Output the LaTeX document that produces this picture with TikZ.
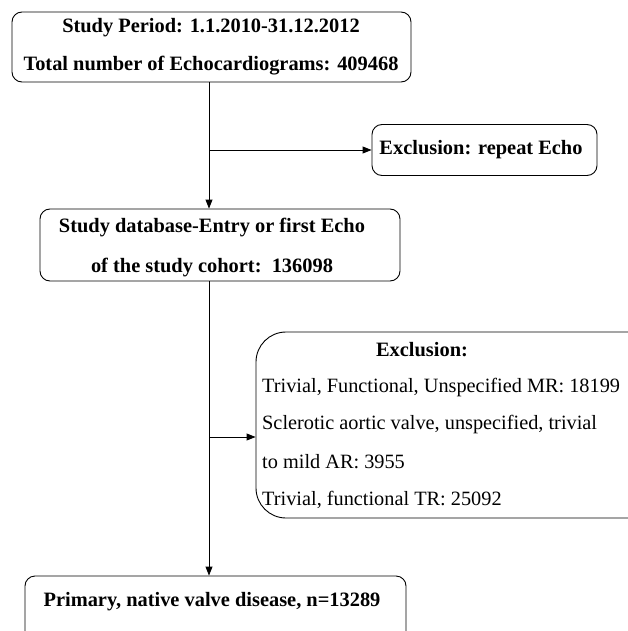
\documentclass[tikz,border=0pt]{standalone}
\usepackage{fontspec}
\setmainfont{Liberation Serif}
\usetikzlibrary{arrows.meta}
\begin{document}
\begin{tikzpicture}[x=1pt,y=-1pt,
  box/.style={draw, line width=0.9pt, rounded corners=10pt, inner sep=0pt},
  bt/.style={font=\fontsize{20.4}{24}\selectfont\bfseries, inner sep=0pt},
  rt/.style={font=\fontsize{20.3}{24}\selectfont, inner sep=0pt},
  arr/.style={-{Triangle[length=9pt,width=7pt]}, line width=0.9pt}]
\path[use as bounding box] (0,0) rectangle (628,631);
\clip (0,0) rectangle (628,631);
% boxes
\node[box, minimum width=399pt, minimum height=70pt] (b1) at (211.5,47) {};
\node[box, minimum width=225pt, minimum height=51pt] (b3) at (484.5,150) {};
\node[box, minimum width=360pt, minimum height=72pt] (b2) at (220,245) {};
\node[box, rounded corners=30pt, minimum width=404pt, minimum height=186pt] (bx) at (458,425) {};
\node[box, minimum width=381pt, minimum height=84pt] (b4) at (215.5,618) {};
% texts
\node[bt] (t1a) at (211,28) {Study Period: 1.1.2010-31.12.2012};
\node[bt] (t1b) at (211,66) {Total number of Echocardiograms: 409468};
\node[bt] (t3) at (481,150) {Exclusion: repeat Echo};
\node[bt] (t2a) at (212,228) {Study database-Entry or first Echo};
\node[bt] (t2b) at (212,268) {of the study cohort:\ \ 136098};
\node[bt] (txa) at (422,350) {Exclusion:};
\node[rt, anchor=west] (txb) at (262,388) {Trivial, Functional, Unspecified MR: 18199};
\node[rt, anchor=west] (txc) at (262,425) {Sclerotic aortic valve, unspecified, trivial};
\node[rt, anchor=west] (txd) at (262,462) {to mild AR: 3955};
\node[rt, anchor=west] (txe) at (262,500) {Trivial, functional TR: 25092};
\node[bt] (t4) at (212,602) {Primary, native valve disease, n=13289};
% connectors
\coordinate (j1) at (209,150);
\coordinate (j2) at (209,437);
\draw[arr] (b1.south -| j1) -- (b2.north -| j1);
\draw[arr] (j1) -- (b3.west);
\draw[arr] (b2.south -| j2) -- (b4.north -| j2);
\draw[arr] (j2) -- (bx.west |- j2);
\end{tikzpicture}
\end{document}
